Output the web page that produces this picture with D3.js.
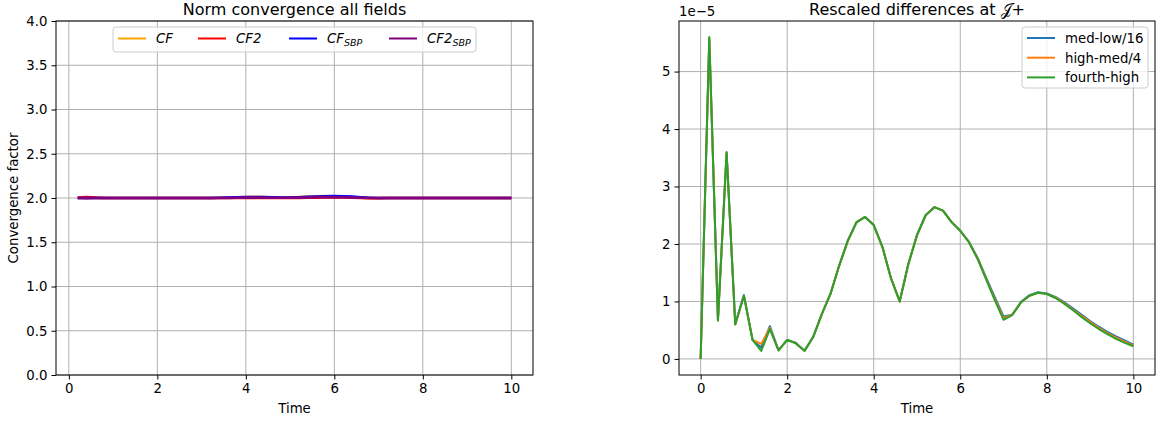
<!DOCTYPE html>
<html>
<head>
<meta charset="utf-8">
<script src="https://cdn.jsdelivr.net/npm/d3@7"></script>
<style>
  body { margin: 0; background: #fff; }
  svg text { font-family: "DejaVu Sans", sans-serif; fill: #000; }
</style>
</head>
<body>
<svg id="fig" width="1156" height="422"></svg>
<script>
// left panel: convergence factors, t = 0.2 .. 10 step 0.2
const time_left = [0.2,0.4,0.6,0.8,1.0,1.2,1.4,1.6,1.8,2.0,2.2,2.4,2.6,2.8,3.0,3.2,3.4,3.6,3.8,4.0,
  4.2,4.4,4.6,4.8,5.0,5.2,5.4,5.6,5.8,6.0,6.2,6.4,6.6,6.8,7.0,7.2,7.4,7.6,7.8,8.0,
  8.2,8.4,8.6,8.8,9.0,9.2,9.4,9.6,9.8,10.0]
const cf = [2.0,2.0,2.0,2.0,2.0,2.0,2.0,2.0,2.0,2.0,2.0,2.0,2.0,2.0,2.0,2.0,2.002,2.005,2.009,2.012,
  2.013,2.012,2.009,2.006,2.006,2.01,2.016,2.02,2.022,2.02,2.015,2.008,2.003,2.0,2.0,2.0,2.0,2.0,2.0,2.0,
  2.0,2.0,2.0,2.0,2.0,2.0,2.0,2.0,2.0,2.0]
const cf2 = [2.006,2.01,2.004,2.0,2.0,2.0,2.0,2.0,2.0,2.0,2.0,2.0,2.0,2.0,2.0,2.0,2.0,2.0,2.0,2.0,
  2.0,2.0,2.0,2.0,2.0,2.0,2.002,2.004,2.006,2.008,2.006,2.003,2.0,1.998,1.998,2.0,2.0,2.0,2.0,2.0,
  2.0,2.0,2.0,2.0,2.0,2.0,2.0,2.0,2.0,2.0]
const cf_sbp = [2.0,2.0,2.0,2.0,2.0,2.0,2.0,2.0,2.0,2.0,2.0,2.0,2.0,2.0,2.0,2.0,2.002,2.004,2.007,2.01,
  2.011,2.01,2.007,2.005,2.005,2.008,2.013,2.017,2.02,2.022,2.02,2.015,2.008,2.003,2.0,2.0,2.0,2.0,2.0,2.0,
  2.0,2.0,2.0,2.0,2.0,2.0,2.0,2.0,2.0,2.0]
const cf2_sbp = [2.0,1.998,2.0,2.0,2.0,2.0,2.0,2.0,2.0,2.0,2.0,2.0,2.0,2.0,2.0,2.0,2.0,2.0,2.002,2.004,
  2.005,2.004,2.003,2.002,2.002,2.004,2.006,2.008,2.01,2.01,2.008,2.005,2.002,2.0,2.0,2.0,2.0,2.0,2.0,2.0,
  2.0,2.0,2.0,2.0,2.0,2.0,2.0,2.0,2.0,2.0]
const left_names = ["CF", "CF2", "CF_SBP", "CF2_SBP"]
const left_colors = ["orange", "red", "blue", "purple"]
const left_yticks = [0.0,0.5,1.0,1.5,2.0,2.5,3.0,3.5,4.0]
const left_xticks = [0,2,4,6,8,10]

// right panel: rescaled differences (x 1e-5), t = 0 .. 10 step 0.2
const time_right = [0,0.2,0.4,0.6,0.8,1.0,1.2,1.4,1.6,1.8,2.0,2.2,2.4,2.6,2.8,3.0,3.2,3.4,3.6,3.8,4.0,
  4.2,4.4,4.6,4.8,5.0,5.2,5.4,5.6,5.8,6.0,6.2,6.4,6.6,6.8,7.0,7.2,7.4,7.6,7.8,8.0,
  8.2,8.4,8.6,8.8,9.0,9.2,9.4,9.6,9.8,10.0]
const med_low = [0,5.55,0.68,3.58,0.61,1.11,0.33,0.2,0.57,0.15,0.33,0.28,0.14,0.38,0.78,1.13,1.62,2.06,2.37,2.47,2.33,
  1.95,1.4,1.0,1.65,2.16,2.5,2.64,2.58,2.38,2.23,2.04,1.76,1.41,1.07,0.74,0.77,0.99,1.11,1.16,1.14,
  1.08,0.99,0.88,0.77,0.66,0.56,0.47,0.39,0.32,0.25]
const high_med = [0,5.58,0.67,3.59,0.6,1.1,0.33,0.26,0.54,0.15,0.33,0.27,0.14,0.38,0.78,1.13,1.62,2.05,2.38,2.47,2.33,
  1.95,1.4,1.0,1.65,2.15,2.5,2.64,2.58,2.38,2.23,2.03,1.75,1.39,1.04,0.71,0.77,0.98,1.1,1.15,1.13,
  1.07,0.97,0.86,0.75,0.64,0.54,0.45,0.37,0.3,0.23]
const fourth_high = [0,5.6,0.67,3.6,0.6,1.1,0.33,0.14,0.52,0.15,0.33,0.27,0.14,0.38,0.78,1.13,1.62,2.05,2.38,2.47,2.33,
  1.95,1.4,1.0,1.65,2.15,2.5,2.64,2.58,2.38,2.23,2.03,1.74,1.38,1.02,0.68,0.76,0.98,1.1,1.15,1.13,
  1.06,0.96,0.85,0.73,0.62,0.52,0.43,0.35,0.28,0.22]
const right_names = ["med-low/16", "high-med/4", "fourth-high"]
const right_colors = ["#1f77b4", "#ff7f0e", "#2ca02c"]
const right_yticks = [0,1,2,3,4,5]
const right_xticks = [0,2,4,6,8,10]

const svg = d3.select("#fig")
const grid_color = "#b0b0b0"
const fs = "13.3px"

function draw_grid(box, x, y, xticks, yticks) {
    const g = svg.append("g")
    g.selectAll(".gx").data(xticks).enter().append("line")
        .attr("x1", d => x(d)).attr("x2", d => x(d))
        .attr("y1", box.top).attr("y2", box.bottom)
        .attr("stroke", grid_color).attr("stroke-width", 1)
    g.selectAll(".gy").data(yticks).enter().append("line")
        .attr("x1", box.left).attr("x2", box.right)
        .attr("y1", d => y(d)).attr("y2", d => y(d))
        .attr("stroke", grid_color).attr("stroke-width", 1)
    return g
}

function draw_frame(box, x, y, xticks, yticks, yfmt) {
    const xa = svg.append("g")
        .attr("transform", "translate(0," + box.bottom + ")")
        .call(d3.axisBottom(x).tickValues(xticks).tickSizeInner(4.5).tickSizeOuter(0).tickPadding(4).tickFormat(d3.format("d")))
    const ya = svg.append("g")
        .attr("transform", "translate(" + box.left + ",0)")
        .call(d3.axisLeft(y).tickValues(yticks).tickSizeInner(4.5).tickSizeOuter(0).tickPadding(4).tickFormat(yfmt))
    for (const a of [xa, ya]) {
        a.select(".domain").remove()
        a.selectAll("text").style("font-size", fs).attr("fill", "#000")
        a.selectAll("line").attr("stroke", "#000")
    }
    svg.append("rect")
        .attr("x", box.left).attr("y", box.top)
        .attr("width", box.right - box.left).attr("height", box.bottom - box.top)
        .attr("fill", "none").attr("stroke", "#000").attr("stroke-width", 1)
}

function add_label(el, name) {
    // CF_SBP -> italic CF with subscript SBP
    const parts = name.split("_")
    el.append("tspan").attr("font-style", "italic").text(parts[0])
    if (parts.length > 1) {
        el.append("tspan").attr("font-style", "italic")
            .attr("font-size", "9.5px").attr("dy", 3).text(parts[1])
    }
}

// ---------- left panel ----------
const boxL = {left: 56, right: 533, top: 21, bottom: 375}
const xL = d3.scaleLinear().domain([0.2 - 0.49, 10 + 0.49]).range([boxL.left, boxL.right])
const yL = d3.scaleLinear().domain([0, 4]).range([boxL.bottom, boxL.top])
draw_grid(boxL, xL, yL, left_xticks, left_yticks)

const left_series = [cf, cf2, cf_sbp, cf2_sbp]
const lineL = d3.line().x((d, i) => xL(time_left[i])).y(d => yL(d))
left_series.forEach((s, k) => {
    svg.append("path").datum(s)
        .attr("fill", "none").attr("stroke", left_colors[k])
        .attr("stroke-width", 2.6).attr("stroke-linejoin", "round")
        .attr("d", lineL)
})
draw_frame(boxL, xL, yL, left_xticks, left_yticks, d3.format(".1f"))

svg.append("text").attr("x", (boxL.left + boxL.right) / 2).attr("y", 15)
    .attr("text-anchor", "middle").style("font-size", "16px").text("Norm convergence all fields")
svg.append("text").attr("x", (boxL.left + boxL.right) / 2).attr("y", 413)
    .attr("text-anchor", "middle").style("font-size", fs).text("Time")
svg.append("text").attr("transform", "translate(18," + (boxL.top + boxL.bottom) / 2 + ") rotate(-90)")
    .attr("text-anchor", "middle").style("font-size", fs).text("Convergence factor")

// left legend
const legL = svg.append("g")
legL.append("rect").attr("x", 113).attr("y", 27).attr("width", 363).attr("height", 25)
    .attr("rx", 3).attr("fill", "#fff").attr("fill-opacity", 0.8)
    .attr("stroke", "#cccccc").attr("stroke-width", 1)
const legL_x = [118, 198, 289, 389]
left_names.forEach((n, k) => {
    legL.append("line").attr("x1", legL_x[k]).attr("x2", legL_x[k] + 28)
        .attr("y1", 38.5).attr("y2", 38.5)
        .attr("stroke", left_colors[k]).attr("stroke-width", 2)
    const t = legL.append("text").attr("x", legL_x[k] + 38).attr("y", 43)
        .style("font-size", fs)
    add_label(t, n)
})

// ---------- right panel ----------
const boxR = {left: 679, right: 1155, top: 21, bottom: 375}
const xR = d3.scaleLinear().domain([-0.5, 10.5]).range([boxR.left, boxR.right])
const yR = d3.scaleLinear().domain([-0.28, 5.88]).range([boxR.bottom, boxR.top])
draw_grid(boxR, xR, yR, right_xticks, right_yticks)

const right_series = [med_low, high_med, fourth_high]
const lineR = d3.line().x((d, i) => xR(time_right[i])).y(d => yR(d))
right_series.forEach((s, k) => {
    svg.append("path").datum(s)
        .attr("fill", "none").attr("stroke", right_colors[k])
        .attr("stroke-width", 2).attr("stroke-linejoin", "round")
        .attr("d", lineR)
})
draw_frame(boxR, xR, yR, right_xticks, right_yticks, d3.format("d"))

svg.append("text").attr("x", (boxR.left + boxR.right) / 2).attr("y", 15)
    .attr("text-anchor", "middle").style("font-size", "16px")
    .text("Rescaled differences at \u{1D4A5}+")
svg.append("text").attr("x", (boxR.left + boxR.right) / 2).attr("y", 413)
    .attr("text-anchor", "middle").style("font-size", fs).text("Time")
svg.append("text").attr("x", boxR.left).attr("y", 16)
    .style("font-size", fs).text("1e\u22125")

// right legend
const legR = svg.append("g")
legR.append("rect").attr("x", 1022).attr("y", 27).attr("width", 126).attr("height", 61)
    .attr("rx", 3).attr("fill", "#fff").attr("fill-opacity", 0.8)
    .attr("stroke", "#cccccc").attr("stroke-width", 1)
right_names.forEach((n, k) => {
    const yy = 38 + k * 19.7
    legR.append("line").attr("x1", 1027).attr("x2", 1055)
        .attr("y1", yy).attr("y2", yy)
        .attr("stroke", right_colors[k]).attr("stroke-width", 2)
    legR.append("text").attr("x", 1065).attr("y", yy + 4.8)
        .style("font-size", fs).text(n)
})
</script>
</body>
</html>
